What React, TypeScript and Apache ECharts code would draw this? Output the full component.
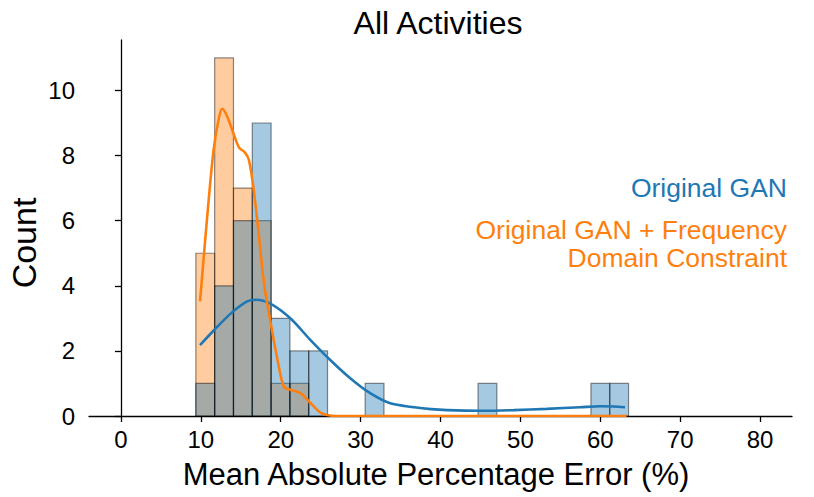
import React, { useEffect, useRef } from "react";
import * as echarts from "echarts";

// Histogram bins (shared edges)
const binStart = 9.375;
const binWidth = 2.355;
const originalGanCounts = [1, 4, 6, 9, 3, 2, 2, 0, 0, 1, 0, 0, 0, 0, 0, 1, 0, 0, 0, 0, 0, 1, 1];
const freqGanCounts = [5, 11, 7, 6, 1, 1, 0, 0, 0, 0, 0, 0, 0, 0, 0, 0, 0, 0, 0, 0, 0, 0, 0];

// KDE curves (scaled to counts)
const originalKdeX = [9.9, 11.7, 13.8, 15.8, 16.9, 18.7, 21.2, 23.7, 26.2, 28.7, 31.2, 33.7, 36.7, 38.8, 40.8, 45, 49.2, 53.3, 57.5, 60, 61.7, 63.1];
const originalKdeY = [2.18, 2.65, 3.16, 3.52, 3.57, 3.45, 3.0, 2.34, 1.72, 1.16, 0.7, 0.39, 0.27, 0.21, 0.18, 0.16, 0.18, 0.22, 0.27, 0.3, 0.29, 0.27];
const freqKdeX = [9.9, 10.8, 11.6, 12.3, 12.7, 13.3, 14.2, 14.8, 15.5, 16.0, 16.5, 17.1, 17.9, 18.75, 19.6, 20.4, 21.25, 22.5, 23.75, 25, 25.8, 27, 63.3];
const freqKdeY = [3.52, 6.13, 8.18, 9.2, 9.44, 9.2, 8.6, 8.24, 8.1, 7.88, 7.16, 5.93, 4.08, 2.85, 1.72, 0.9, 0.8, 0.7, 0.39, 0.1, 0.03, 0, 0];

const xTicks = [0, 10, 20, 30, 40, 50, 60, 70, 80];
const yTicks = [0, 2, 4, 6, 8, 10];

const title = "All Activities";
const xName = "Mean Absolute Percentage Error (%)";
const yName = "Count";
const legendBlue = "Original GAN";
const legendOrange1 = "Original GAN + Frequency";
const legendOrange2 = "Domain Constraint";

const BLUE = "#1f77b4";
const ORANGE = "#ff7f0e";
const FONT = "'Liberation Sans', Arial, Helvetica, sans-serif";

function histData(counts: number[]) {
  return counts
    .map((c, i) => [binStart + i * binWidth, binStart + (i + 1) * binWidth, c])
    .filter((d) => d[2] > 0);
}

function histRender(fill: string) {
  return (params: any, api: any) => {
    const p0 = api.coord([api.value(0), api.value(2)]);
    const p1 = api.coord([api.value(1), 0]);
    return {
      type: "rect",
      shape: { x: p0[0], y: p0[1], width: p1[0] - p0[0], height: p1[1] - p0[1] },
      style: { fill, stroke: "rgba(0,0,0,0.45)", lineWidth: 1.2 },
    };
  };
}

export default function App() {
  const ref = useRef<HTMLDivElement>(null);
  useEffect(() => {
    if (!ref.current) return;
    const chart = echarts.init(ref.current, undefined, { renderer: "svg" });
    chart.setOption({
      animation: false,
      backgroundColor: "#ffffff",
      grid: { left: 89, right: 22, top: 40, bottom: 81 },
      xAxis: {
        type: "value",
        min: -4,
        max: 84,
        splitLine: { show: false },
        axisLine: { show: true, onZero: false, lineStyle: { color: "#000", width: 1.3 } },
        axisTick: { show: true, length: 6, lineStyle: { color: "#000", width: 1.3 }, customValues: xTicks },
        axisLabel: { customValues: xTicks, color: "#000", fontSize: 24, fontFamily: FONT, margin: 11 },
      },
      yAxis: {
        type: "value",
        min: 0,
        max: 11.55,
        splitLine: { show: false },
        axisLine: { show: true, lineStyle: { color: "#000", width: 1.3 } },
        axisTick: { show: true, length: 6, lineStyle: { color: "#000", width: 1.3 }, customValues: yTicks },
        axisLabel: { customValues: yTicks, color: "#000", fontSize: 24, fontFamily: FONT, margin: 14 },
      },
      graphic: [
        {
          type: "text",
          x: 438,
          y: 23,
          style: { text: title, fill: "#000", fontSize: 32, fontFamily: FONT, align: "center", verticalAlign: "middle" },
        },
        {
          type: "text",
          x: 436,
          y: 474,
          style: { text: xName, fill: "#000", fontSize: 31, fontFamily: FONT, align: "center", verticalAlign: "middle" },
        },
        {
          type: "text",
          x: 24,
          y: 243,
          rotation: Math.PI / 2,
          style: { text: yName, fill: "#000", fontSize: 34, fontFamily: FONT, align: "center", verticalAlign: "middle" },
        },
        {
          type: "text",
          x: 787,
          y: 188,
          style: { text: legendBlue, fill: BLUE, fontSize: 26.5, fontFamily: FONT, align: "right", verticalAlign: "middle" },
        },
        {
          type: "text",
          x: 787,
          y: 230,
          style: { text: legendOrange1, fill: ORANGE, fontSize: 26.5, fontFamily: FONT, align: "right", verticalAlign: "middle" },
        },
        {
          type: "text",
          x: 787,
          y: 258,
          style: { text: legendOrange2, fill: ORANGE, fontSize: 26.5, fontFamily: FONT, align: "right", verticalAlign: "middle" },
        },
      ],
      series: [
        {
          name: "freqHist",
          type: "custom",
          renderItem: histRender("rgba(255,127,14,0.4)"),
          data: histData(freqGanCounts),
          encode: { x: [0, 1], y: 2 },
          z: 1,
        },
        {
          name: "origHist",
          type: "custom",
          renderItem: histRender("rgba(31,119,180,0.4)"),
          data: histData(originalGanCounts),
          encode: { x: [0, 1], y: 2 },
          z: 2,
        },
        {
          name: "origKde",
          type: "line",
          data: originalKdeX.map((x, i) => [x, originalKdeY[i]]),
          smooth: 0.3,
          showSymbol: false,
          lineStyle: { color: BLUE, width: 2.6 },
          z: 3,
        },
        {
          name: "freqKde",
          type: "line",
          data: freqKdeX.map((x, i) => [x, freqKdeY[i]]),
          smooth: 0.3,
          showSymbol: false,
          lineStyle: { color: ORANGE, width: 2.6 },
          z: 4,
        },
      ],
    });
    return () => chart.dispose();
  }, []);
  return (
    <div
      ref={ref}
      style={{ position: "absolute", left: 0, top: 0, width: 814, height: 497 }}
    />
  );
}
